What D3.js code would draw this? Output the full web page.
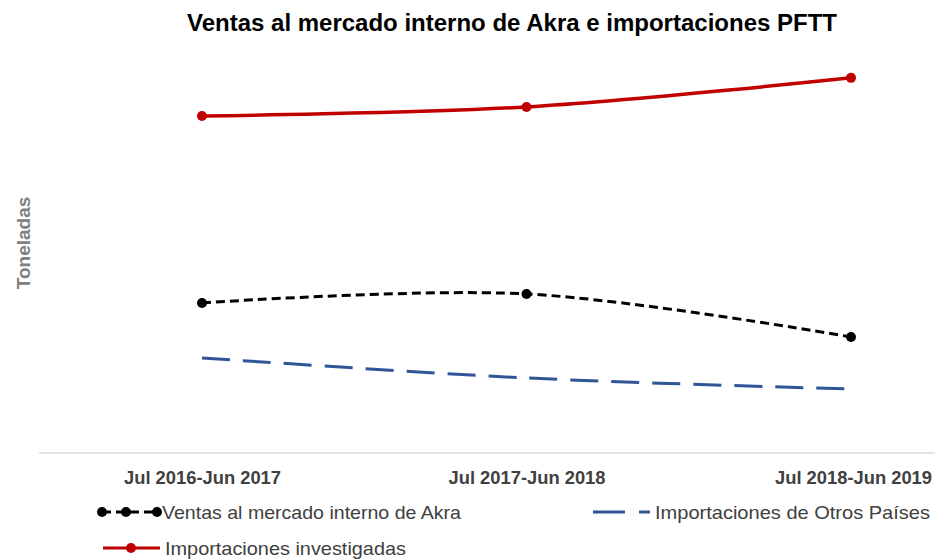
<!DOCTYPE html>
<html>
<head>
<meta charset="utf-8">
<script src="https://cdn.jsdelivr.net/npm/d3@7"></script>
<style>
  body { margin: 0; background: #fff; }
  text { font-family: "Liberation Sans", Arial, sans-serif; }
</style>
</head>
<body>
<div id="chart"></div>
<script>
var svgWidth = 935;
var svgHeight = 560;

// periods on the x axis
var periods = ["Jul 2016-Jun 2017", "Jul 2017-Jun 2018", "Jul 2018-Jun 2019"];

// values (no axis ticks, relative units)
var ventasAkra = [36.6, 38.8, 28.3];
var importOtros = [23.2, 18.3, 15.6];
var importInvest = [82.2, 84.4, 91.5];

var svg = d3.select("#chart")
  .append("svg")
  .attr("width", svgWidth)
  .attr("height", svgHeight);

var xScale = d3.scalePoint()
  .domain(periods)
  .range([202, 851]);

var yScale = d3.scaleLinear()
  .domain([0, 100])
  .range([453, 43]);

// title
svg.append("text")
  .attr("x", 187)
  .attr("y", 31)
  .attr("textLength", 650)
  .attr("lengthAdjust", "spacingAndGlyphs")
  .style("font-weight", "bold")
  .style("font-size", "23px")
  .attr("fill", "#000")
  .text("Ventas al mercado interno de Akra e importaciones PFTT");

// y label
svg.append("text")
  .attr("transform", "translate(30, 243) rotate(-90)")
  .attr("text-anchor", "middle")
  .style("font-weight", "bold")
  .style("font-size", "19px")
  .attr("fill", "#808080")
  .text("Toneladas");

// x axis
var xAxis = svg.append("g")
  .attr("transform", "translate(0, 453)")
  .call(d3.axisBottom(xScale).tickSize(0).tickPadding(18));
xAxis.select(".domain").remove();
xAxis.append("line")
  .attr("x1", 39).attr("x2", 935)
  .attr("stroke", "#d9d9d9").attr("stroke-width", 1.5);
xAxis.selectAll(".tick text")
  .attr("textLength", 157)
  .attr("lengthAdjust", "spacingAndGlyphs")
  .attr("dx", function(d, i) { return i === 2 ? 2 : 0; })
  .style("font-family", "'Liberation Sans', Arial, sans-serif")
  .style("font-weight", "bold")
  .style("font-size", "18.5px")
  .attr("fill", "#404040");

var line = d3.line()
  .x(function(d, i) { return xScale(periods[i]); })
  .y(function(d) { return yScale(d); })
  .curve(d3.curveCardinal.tension(0));

var series = [
  { name: "Ventas al mercado interno de Akra", values: ventasAkra, color: "#000000", dash: "9,5", markers: true },
  { name: "Importaciones de Otros Países", values: importOtros, color: "#2f5597", dash: "28,13", markers: false },
  { name: "Importaciones investigadas", values: importInvest, color: "#c00000", dash: null, markers: true }
];

series.forEach(function(s) {
  svg.append("path")
    .attr("d", line(s.values))
    .attr("fill", "none")
    .attr("stroke", s.color)
    .attr("stroke-width", s.dash ? 3 : 3.5)
    .attr("stroke-dasharray", s.dash);
  if (s.markers) {
    svg.append("g")
      .selectAll("circle")
      .data(s.values)
      .enter()
      .append("circle")
      .attr("cx", function(d, i) { return xScale(periods[i]); })
      .attr("cy", function(d) { return yScale(d); })
      .attr("r", 5)
      .attr("fill", s.color);
  }
});

// legend
var legendItems = [
  { s: series[0], x: 102, y: 512, w: 55, dash: "9,5", len: 299, pts: [0, 24, 55] },
  { s: series[1], x: 593, y: 512, w: 57, dash: "32,14", len: 275, pts: [] },
  { s: series[2], x: 103, y: 548, w: 57, dash: null, len: 241, pts: [28] }
];

legendItems.forEach(function(item) {
  var g = svg.append("g").attr("transform", "translate(" + item.x + "," + item.y + ")");
  g.append("line")
    .attr("x1", 0).attr("x2", item.w)
    .attr("stroke", item.s.color)
    .attr("stroke-width", 3)
    .attr("stroke-dasharray", item.dash);
  g.selectAll("circle")
    .data(item.pts)
    .enter()
    .append("circle")
    .attr("cx", function(d) { return d; })
    .attr("cy", 0)
    .attr("r", 5)
    .attr("fill", item.s.color);
  g.append("text")
    .attr("x", item.w + 5)
    .attr("y", 7)
    .attr("textLength", item.len)
    .attr("lengthAdjust", "spacingAndGlyphs")
    .style("font-size", "19px")
    .attr("fill", "#404040")
    .text(item.s.name);
});
</script>
</body>
</html>
